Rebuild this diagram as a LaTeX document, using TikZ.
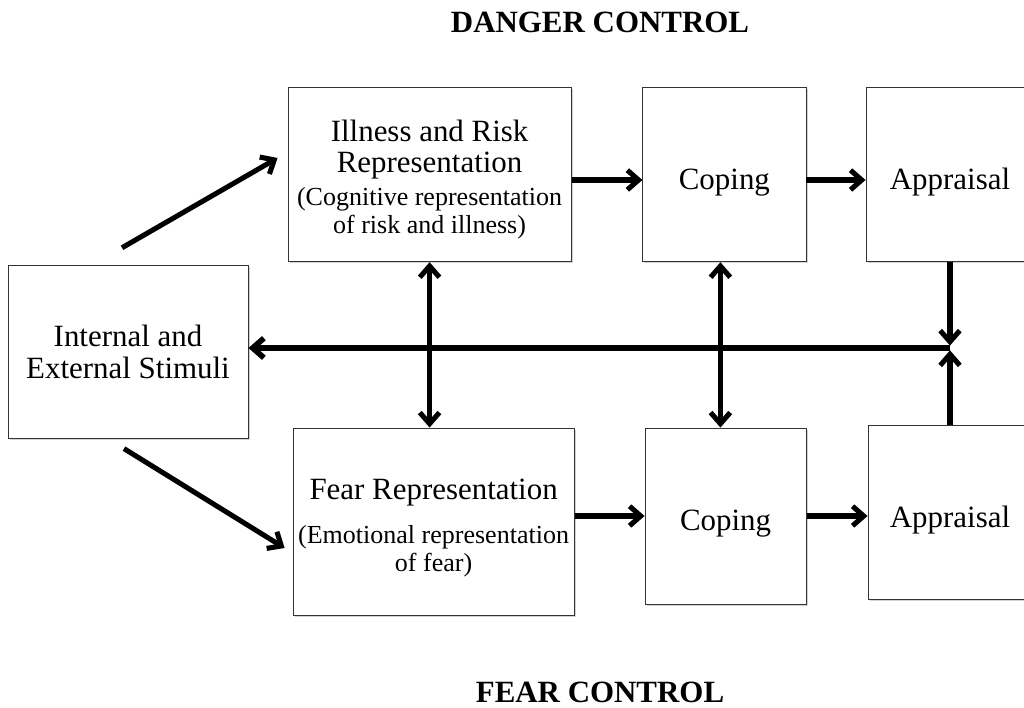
\documentclass[tikz,border=0pt]{standalone}
\usepackage{fontspec}
\setmainfont{Liberation Serif}
\usepackage{xcolor}
\usepackage{tikz}
\usetikzlibrary{positioning, arrows.meta, shadows}

\begin{document}
\begin{tikzpicture}[box/.style = {draw=black!80, line width=0.6pt, fill=white, inner sep=2pt, align=center, drop shadow={shadow xshift=1.2pt, shadow yshift=-1.2pt, opacity=0.35}}, big/.style = {font=\fontsize{22}{22.8}\selectfont}, small/.style = {font=\fontsize{18.5}{19.9}\selectfont}, arr/.style = {line width=3.6pt, -{Straight Barb[length=2.8mm, width=4.9mm]}}, dbl/.style = {line width=3.6pt, {Straight Barb[length=2.8mm, width=4.9mm]}-{Straight Barb[length=2.8mm, width=4.9mm]}}, head/.style = {font=\fontsize{22}{22}\selectfont\bfseries}]
    \useasboundingbox (0,0) rectangle (25.6,17.7);
    \clip (0,0) rectangle (25.6,17.7);

    % 标题
    \node[head] (dc) at (15,17.15) {DANGER CONTROL};
    \node[head] (fc) at (15,0.38) {FEAR CONTROL};

    % 方框
    \node[box, big, minimum width=6cm, minimum height=4.33cm] (stim) at (3.2,8.91) {Internal and\\External Stimuli};
    \node[box, small, minimum width=7.08cm, minimum height=4.35cm] (ill) at (10.74,13.33) {{\fontsize{22}{22}\selectfont\rule{0pt}{22pt}Illness and Risk}\\[1.8pt]{\fontsize{22}{22}\selectfont Representation}\\[3.4pt](Cognitive representation\\of risk and illness)};
    \node[box, big, minimum width=4.08cm, minimum height=4.35cm] (copT) at (18.11,13.33) {\rule{0pt}{25pt}Coping};
    \node[box, big, minimum width=4.2cm, minimum height=4.35cm] (appT) at (23.75,13.33) {\rule{0pt}{25pt}Appraisal};
    \node[box, small, minimum width=7.03cm, minimum height=4.68cm] (fear) at (10.84,4.66) {{\fontsize{22}{22}\selectfont\rule{0pt}{24pt}Fear Representation}\\[11pt](Emotional representation\\of fear)};
    \node[box, big, minimum width=4.03cm, minimum height=4.4cm] (copB) at (18.14,4.8) {\rule{0pt}{25pt}Coping};
    \node[box, big, minimum width=4.1cm, minimum height=4.35cm] (appB) at (23.75,4.88) {\rule{0pt}{25pt}Appraisal};
    \coordinate (junc) at (23.75,9.0);

    % 连线
    \draw[arr] ([xshift=-0.15cm, yshift=0.42cm]stim.north) -- ([xshift=-0.25cm, yshift=0.42cm]ill.west);
    \draw[arr] ([xshift=-0.1cm, yshift=-0.25cm]stim.south) -- ([xshift=-0.2cm, yshift=-0.66cm]fear.west);
    \draw[arr] ([yshift=-0.13cm]ill.east |- copT) -- ([yshift=-0.13cm]copT.west);
    \draw[arr] ([yshift=-0.13cm]copT.east) -- ([yshift=-0.13cm]appT.west);
    \draw[arr] (fear.east |- copB) -- (copB.west);
    \draw[arr] (copB.east) -- (appB.west |- copB);
    \draw[dbl] (ill.south) -- (ill.south |- fear.north);
    \draw[dbl] ([xshift=-0.1cm]copT.south) -- ([xshift=-0.1cm]copT.south |- copB.north);
    \draw[arr] (appT.south) -- ([yshift=0.06cm]junc);
    \draw[arr] (appB.north) -- ([yshift=-0.06cm]junc);
    \draw[arr, line width=4pt] (junc) -- (stim.east |- junc);
\end{tikzpicture}
\end{document}
